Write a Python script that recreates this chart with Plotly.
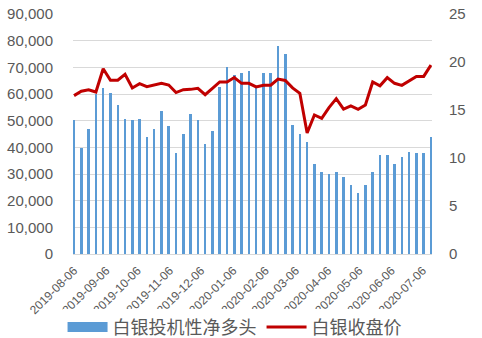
import plotly.graph_objects as go
import pandas as pd

dates = pd.date_range("2019-08-06", periods=50, freq="7D").strftime("%Y-%m-%d").tolist()

net_long = [50250, 39600, 46850, 59900, 62100, 60500, 55750, 50600, 50250, 50600,
            44000, 46850, 53600, 47900, 37750, 45000, 52500, 50250, 41100, 46250,
            62750, 70000, 67100, 67750, 68750, 62750, 67750, 67750, 78000, 75000,
            48400, 45000, 42100, 33750, 30900, 29900, 30900, 28750, 25900, 23000,
            25900, 30900, 37100, 37100, 33750, 36500, 38250, 37750, 37750, 44000]

close = [16.5, 16.95, 17.1, 16.87, 19.3, 18.1, 18.1, 18.72, 17.3, 17.75,
         17.43, 17.57, 17.78, 17.6, 16.82, 17.12, 17.15, 17.26, 16.6, 17.26,
         17.92, 17.92, 18.38, 17.78, 17.78, 17.4, 17.58, 17.58, 18.22, 18.08,
         17.3, 16.74, 12.6, 14.48, 14.13, 15.25, 16.18, 15.1, 15.42, 15.07,
         15.52, 17.92, 17.52, 18.37, 17.78, 17.57, 18.04, 18.5, 18.5, 19.69]

tick_labels = ["2019-08-06", "2019-09-06", "2019-10-06", "2019-11-06", "2019-12-06",
               "2020-01-06", "2020-02-06", "2020-03-06", "2020-04-06", "2020-05-06",
               "2020-06-06", "2020-07-06"]

bar_name = "白银投机性净多头"
line_name = "白银收盘价"
blue = "#5B9BD5"
red = "#C00000"
txt = "#595959"
font_cjk = "Noto Sans CJK SC"

fig = go.Figure()
fig.add_trace(go.Bar(x=dates, y=net_long, name=bar_name, marker_color=blue,
                     marker_line_width=0, width=2.4 * 86400000, showlegend=False))
fig.add_trace(go.Scatter(x=[None], y=[None], mode="lines", name=bar_name,
                         line=dict(color=blue, width=10)))
fig.add_trace(go.Scatter(x=dates, y=close, name=line_name, mode="lines", yaxis="y2",
                         line=dict(color=red, width=3)))

fig.update_layout(
    width=482, height=338,
    margin=dict(l=73, r=50, t=14, b=84, autoexpand=False),
    paper_bgcolor="white", plot_bgcolor="white",
    font=dict(family="Liberation Sans", color=txt, size=15),
    xaxis=dict(type="date", range=["2019-08-05", "2020-07-15"],
               tickvals=tick_labels, ticktext=tick_labels, tickangle=-45,
               tickfont=dict(size=12, color=txt), showgrid=False,
               showline=True, linecolor="#D9D9D9", linewidth=1, ticks="",
               ticklabelstandoff=4, automargin=False),
    yaxis=dict(range=[0, 90000], dtick=10000, tickformat=",",
               gridcolor="#D9D9D9", gridwidth=1, zeroline=False,
               ticklabelstandoff=19, tickfont=dict(size=15, color=txt), automargin=False),
    yaxis2=dict(range=[0, 25], dtick=5, overlaying="y", side="right",
                showgrid=False, zeroline=False, ticklabelstandoff=16,
                tickfont=dict(size=15, color=txt), automargin=False),
    legend=dict(orientation="h", x=0.45, xanchor="center", y=-0.305, yanchor="middle",
                font=dict(family=font_cjk, size=18, color=txt),
                traceorder="normal", itemwidth=40),
    bargap=0,
)

fig.write_html("out.html")
